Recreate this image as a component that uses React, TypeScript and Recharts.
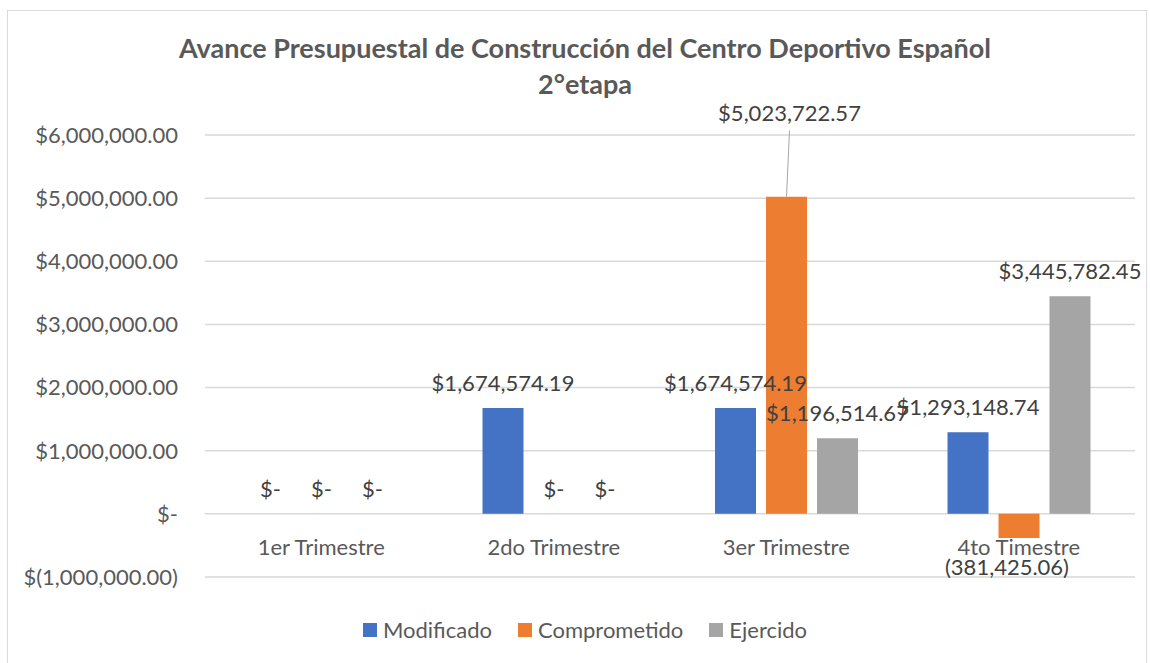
import React from 'react';
import { BarChart, Bar, XAxis, YAxis, CartesianGrid, LabelList } from 'recharts';

const categories = ['1er Trimestre', '2do Trimestre', '3er Trimestre', '4to Timestre'];
const modificado = [0, 1674574.19, 1674574.19, 1293148.74];
const comprometido = [0, 0, 5023722.57, -381425.06];
const ejercido = [0, 0, 1196514.67, 3445782.45];
const yTicks = [-1000000, 0, 1000000, 2000000, 3000000, 4000000, 5000000, 6000000];

const series = [
  { key: 'modificado', name: 'Modificado', color: '#4472c4' },
  { key: 'comprometido', name: 'Comprometido', color: '#ed7d31' },
  { key: 'ejercido', name: 'Ejercido', color: '#a5a5a5' },
];

const data = categories.map((name, i) => ({
  name,
  modificado: modificado[i],
  comprometido: comprometido[i],
  ejercido: ejercido[i],
}));

const FONT = 'Lato, "Open Sans", sans-serif';
const TEXT = '#595959';

const money = (v: number) =>
  v.toLocaleString('en-US', { minimumFractionDigits: 2, maximumFractionDigits: 2 });

const fmtAxis = (v: number) => {
  if (v === 0) return '$-';
  if (v < 0) return `$(${money(-v)})`;
  return `$${money(v)}`;
};

const fmtLabel = (v: number) => {
  if (v === 0) return '$-';
  if (v < 0) return `(${money(-v)})`;
  return `$${money(v)}`;
};

const makeLabel = (callout?: number) => (props: any) => {
  const { x, y, width, height, value, index } = props;
  const cx = x + width / 2;
  const top = Math.min(y, y + height);
  const bottom = Math.max(y, y + height);
  const style = { fontFamily: FONT, fontSize: 22, fill: '#404040' };
  if (value < 0) {
    // negative values sit below the bar
    return (
      <text x={cx - 12} y={bottom + 37} textAnchor="middle" style={style}>
        {fmtLabel(value)}
      </text>
    );
  }
  if (callout !== undefined && index === callout) {
    // label pulled up with a leader line
    return (
      <g>
        <line x1={cx} y1={top} x2={cx + 3} y2={top - 66} stroke="#a6a6a6" strokeWidth={1} />
        <text x={cx + 3} y={top - 76} textAnchor="middle" style={style}>
          {fmtLabel(value)}
        </text>
      </g>
    );
  }
  return (
    <text x={cx} y={top - 17} textAnchor="middle" style={style}>
      {fmtLabel(value)}
    </text>
  );
};

const CategoryTick = (props: any) => {
  const { x, y, payload } = props;
  return (
    <text x={x} y={y - 30} textAnchor="middle" style={{ fontFamily: FONT, fontSize: 22, fill: TEXT }}>
      {payload.value}
    </text>
  );
};

export default function App() {
  return (
    <div style={{ position: 'absolute', left: 0, top: 0, width: 1150, height: 663, background: '#fff' }}>
      <div
        style={{
          position: 'absolute',
          left: 7,
          top: 10,
          width: 1140,
          height: 660,
          border: '1px solid #d9d9d9',
          boxSizing: 'border-box',
        }}
      />
      <div
        style={{
          position: 'absolute',
          left: 0,
          top: 30,
          width: 1170,
          textAlign: 'center',
          fontFamily: FONT,
          fontWeight: 700,
          fontSize: 27,
          lineHeight: '36px',
          color: TEXT,
        }}
      >
        Avance Presupuestal de Construcción del Centro Deportivo Español
        <br />
        2°etapa
      </div>
      <div style={{ position: 'absolute', left: 0, top: 0 }}>
        <BarChart
          width={1150}
          height={663}
          data={data}
          margin={{ top: 135, right: 15, left: 0, bottom: 56 }}
          barGap={10}
          barSize={41}
        >
          <CartesianGrid vertical={false} stroke="#d9d9d9" strokeWidth={1.5} />
          <XAxis
            dataKey="name"
            axisLine={false}
            tickLine={false}
            height={30}
            tick={<CategoryTick />}
          />
          <YAxis
            domain={[-1000000, 6000000]}
            ticks={yTicks}
            interval={0}
            width={205}
            axisLine={false}
            tickLine={false}
            tickSize={0}
            tickMargin={27}
            tickFormatter={fmtAxis}
            tick={{ fontFamily: FONT, fontSize: 22, fill: TEXT }}
          />
          {series.map((s, si) => (
            <Bar
              key={s.key}
              dataKey={s.key}
              name={s.name}
              fill={s.color}
              minPointSize={0.01}
              isAnimationActive={false}
            >
              <LabelList dataKey={s.key} content={makeLabel(si === 1 ? 2 : undefined)} />
            </Bar>
          ))}
        </BarChart>
      </div>
      <div
        style={{
          position: 'absolute',
          left: 0,
          top: 615,
          width: 1170,
          display: 'flex',
          justifyContent: 'center',
          gap: 26,
          fontFamily: FONT,
          fontSize: 22,
          color: TEXT,
          lineHeight: '30px',
        }}
      >
        {series.map((s) => (
          <div key={s.key} style={{ display: 'flex', alignItems: 'center' }}>
            <span style={{ display: 'inline-block', width: 14, height: 14, background: s.color, marginRight: 6 }} />
            {s.name}
          </div>
        ))}
      </div>
    </div>
  );
}
